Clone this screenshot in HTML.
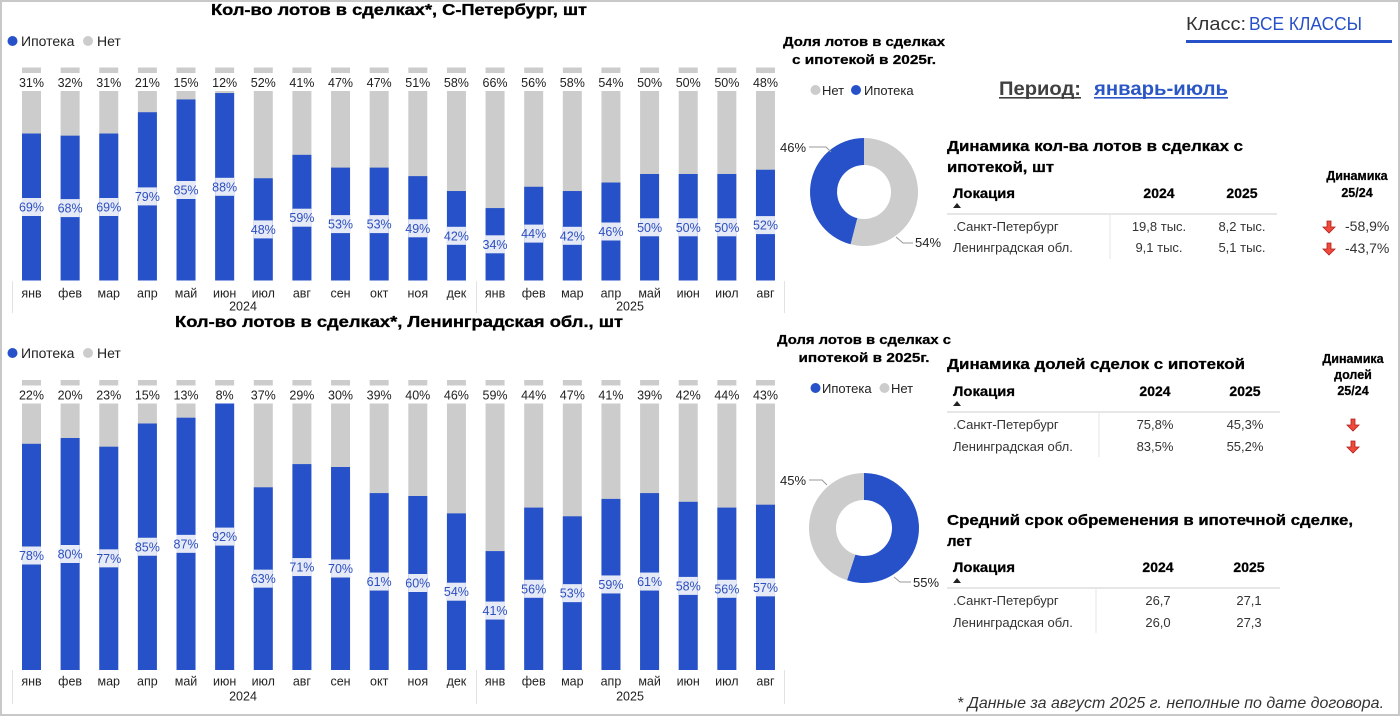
<!DOCTYPE html>
<html><head><meta charset="utf-8"><style>
html,body{margin:0;padding:0;background:#fff;}
svg{display:block;font-family:"Liberation Sans","DejaVu Sans",sans-serif;}
</style></head><body>
<svg width="1400" height="716" viewBox="0 0 1400 716" xmlns="http://www.w3.org/2000/svg">
<rect x="1" y="1" width="1398" height="714" fill="#fff" stroke="#c8c8c8" stroke-width="2"/>

<!-- ===== TOP CHART ===== -->
<text x="399" y="15" text-anchor="middle" font-size="16" font-weight="bold" stroke="#000" stroke-width="0.35" textLength="376" lengthAdjust="spacingAndGlyphs">Кол-во лотов в сделках*, С-Петербург, шт</text>
<circle cx="12.5" cy="41" r="5" fill="#2651c9"/><text x="21" y="46" font-size="14" fill="#222">Ипотека</text>
<circle cx="88" cy="41" r="5" fill="#cccccc"/><text x="97" y="46" font-size="14" fill="#222">Нет</text>

<g fill="#cccccc">
<rect x="22" y="67.5" width="19" height="213"/><rect x="60.63" y="67.5" width="19" height="213"/><rect x="99.26" y="67.5" width="19" height="213"/><rect x="137.89" y="67.5" width="19" height="213"/><rect x="176.52" y="67.5" width="19" height="213"/><rect x="215.15" y="67.5" width="19" height="213"/><rect x="253.78" y="67.5" width="19" height="213"/><rect x="292.41" y="67.5" width="19" height="213"/><rect x="331.04" y="67.5" width="19" height="213"/><rect x="369.67" y="67.5" width="19" height="213"/><rect x="408.3" y="67.5" width="19" height="213"/><rect x="446.93" y="67.5" width="19" height="213"/><rect x="485.56" y="67.5" width="19" height="213"/><rect x="524.19" y="67.5" width="19" height="213"/><rect x="562.82" y="67.5" width="19" height="213"/><rect x="601.45" y="67.5" width="19" height="213"/><rect x="640.08" y="67.5" width="19" height="213"/><rect x="678.71" y="67.5" width="19" height="213"/><rect x="717.34" y="67.5" width="19" height="213"/><rect x="755.97" y="67.5" width="19" height="213"/>
</g>
<g fill="#2651c9">
<rect x="22" y="133.53" width="19" height="146.97"/><rect x="60.63" y="135.66" width="19" height="144.84"/><rect x="99.26" y="133.53" width="19" height="146.97"/><rect x="137.89" y="112.23" width="19" height="168.27"/><rect x="176.52" y="99.45" width="19" height="181.05"/><rect x="215.15" y="93.06" width="19" height="187.44"/><rect x="253.78" y="178.26" width="19" height="102.24"/><rect x="292.41" y="154.83" width="19" height="125.67"/><rect x="331.04" y="167.61" width="19" height="112.89"/><rect x="369.67" y="167.61" width="19" height="112.89"/><rect x="408.3" y="176.13" width="19" height="104.37"/><rect x="446.93" y="191.04" width="19" height="89.46"/><rect x="485.56" y="208.08" width="19" height="72.42"/><rect x="524.19" y="186.78" width="19" height="93.72"/><rect x="562.82" y="191.04" width="19" height="89.46"/><rect x="601.45" y="182.52" width="19" height="97.98"/><rect x="640.08" y="174" width="19" height="106.5"/><rect x="678.71" y="174" width="19" height="106.5"/><rect x="717.34" y="174" width="19" height="106.5"/><rect x="755.97" y="169.74" width="19" height="110.76"/>
</g>
<rect x="15" y="73" width="770" height="18" fill="#fff"/>
<g font-size="12.5" fill="#222" text-anchor="middle">
<text x="31.5" y="87">31%</text><text x="70.13" y="87">32%</text><text x="108.76" y="87">31%</text><text x="147.39" y="87">21%</text><text x="186.02" y="87">15%</text><text x="224.65" y="87">12%</text><text x="263.28" y="87">52%</text><text x="301.91" y="87">41%</text><text x="340.54" y="87">47%</text><text x="379.17" y="87">47%</text><text x="417.8" y="87">51%</text><text x="456.43" y="87">58%</text><text x="495.06" y="87">66%</text><text x="533.69" y="87">56%</text><text x="572.32" y="87">58%</text><text x="610.95" y="87">54%</text><text x="649.58" y="87">50%</text><text x="688.21" y="87">50%</text><text x="726.84" y="87">50%</text><text x="765.47" y="87">48%</text>
</g>
<g fill="#e6eaf7">
<rect x="22" y="198" width="19" height="18"/><rect x="60.63" y="199.1" width="19" height="18"/><rect x="99.26" y="198" width="19" height="18"/><rect x="137.89" y="187.4" width="19" height="18"/><rect x="176.52" y="181" width="19" height="18"/><rect x="215.15" y="177.8" width="19" height="18"/><rect x="253.78" y="220.4" width="19" height="18"/><rect x="292.41" y="208.7" width="19" height="18"/><rect x="331.04" y="215.1" width="19" height="18"/><rect x="369.67" y="215.1" width="19" height="18"/><rect x="408.3" y="219.3" width="19" height="18"/><rect x="446.93" y="226.8" width="19" height="18"/><rect x="485.56" y="235.3" width="19" height="18"/><rect x="524.19" y="224.6" width="19" height="18"/><rect x="562.82" y="226.8" width="19" height="18"/><rect x="601.45" y="222.5" width="19" height="18"/><rect x="640.08" y="218.3" width="19" height="18"/><rect x="678.71" y="218.3" width="19" height="18"/><rect x="717.34" y="218.3" width="19" height="18"/><rect x="755.97" y="216.1" width="19" height="18"/>
</g>
<g font-size="12.5" fill="#2c4fbf" text-anchor="middle">
<text x="31.5" y="211.5">69%</text><text x="70.13" y="212.6">68%</text><text x="108.76" y="211.5">69%</text><text x="147.39" y="200.9">79%</text><text x="186.02" y="194.5">85%</text><text x="224.65" y="191.3">88%</text><text x="263.28" y="233.9">48%</text><text x="301.91" y="222.2">59%</text><text x="340.54" y="228.6">53%</text><text x="379.17" y="228.6">53%</text><text x="417.8" y="232.8">49%</text><text x="456.43" y="240.3">42%</text><text x="495.06" y="248.8">34%</text><text x="533.69" y="238.1">44%</text><text x="572.32" y="240.3">42%</text><text x="610.95" y="236">46%</text><text x="649.58" y="231.8">50%</text><text x="688.21" y="231.8">50%</text><text x="726.84" y="231.8">50%</text><text x="765.47" y="229.6">52%</text>
</g>
<g stroke="#e2e2e2" stroke-width="1"><line x1="12.5" y1="281" x2="12.5" y2="313"/><line x1="476.5" y1="281" x2="476.5" y2="313"/><line x1="784.5" y1="281" x2="784.5" y2="313"/></g>
<g font-size="12.5" fill="#222" text-anchor="middle">
<text x="31.5" y="297.5">янв</text><text x="70.13" y="297.5">фев</text><text x="108.76" y="297.5">мар</text><text x="147.39" y="297.5">апр</text><text x="186.02" y="297.5">май</text><text x="224.65" y="297.5">июн</text><text x="263.28" y="297.5">июл</text><text x="301.91" y="297.5">авг</text><text x="340.54" y="297.5">сен</text><text x="379.17" y="297.5">окт</text><text x="417.8" y="297.5">ноя</text><text x="456.43" y="297.5">дек</text><text x="495.06" y="297.5">янв</text><text x="533.69" y="297.5">фев</text><text x="572.32" y="297.5">мар</text><text x="610.95" y="297.5">апр</text><text x="649.58" y="297.5">май</text><text x="688.21" y="297.5">июн</text><text x="726.84" y="297.5">июл</text><text x="765.47" y="297.5">авг</text>
<text x="243" y="310.5">2024</text><text x="630" y="310.5">2025</text>
</g>

<!-- ===== BOTTOM CHART ===== -->
<text x="399" y="327" text-anchor="middle" font-size="16" font-weight="bold" stroke="#000" stroke-width="0.35" textLength="448" lengthAdjust="spacingAndGlyphs">Кол-во лотов в сделках*, Ленинградская обл., шт</text>
<circle cx="12.5" cy="353" r="5" fill="#2651c9"/><text x="21" y="358" font-size="14" fill="#222">Ипотека</text>
<circle cx="88" cy="353" r="5" fill="#cccccc"/><text x="97" y="358" font-size="14" fill="#222">Нет</text>

<g fill="#cccccc">
<rect x="22" y="380" width="19" height="290"/><rect x="60.63" y="380" width="19" height="290"/><rect x="99.26" y="380" width="19" height="290"/><rect x="137.89" y="380" width="19" height="290"/><rect x="176.52" y="380" width="19" height="290"/><rect x="215.15" y="380" width="19" height="290"/><rect x="253.78" y="380" width="19" height="290"/><rect x="292.41" y="380" width="19" height="290"/><rect x="331.04" y="380" width="19" height="290"/><rect x="369.67" y="380" width="19" height="290"/><rect x="408.3" y="380" width="19" height="290"/><rect x="446.93" y="380" width="19" height="290"/><rect x="485.56" y="380" width="19" height="290"/><rect x="524.19" y="380" width="19" height="290"/><rect x="562.82" y="380" width="19" height="290"/><rect x="601.45" y="380" width="19" height="290"/><rect x="640.08" y="380" width="19" height="290"/><rect x="678.71" y="380" width="19" height="290"/><rect x="717.34" y="380" width="19" height="290"/><rect x="755.97" y="380" width="19" height="290"/>
</g>
<g fill="#2651c9">
<rect x="22" y="443.8" width="19" height="226.2"/><rect x="60.63" y="438" width="19" height="232"/><rect x="99.26" y="446.7" width="19" height="223.3"/><rect x="137.89" y="423.5" width="19" height="246.5"/><rect x="176.52" y="417.7" width="19" height="252.3"/><rect x="215.15" y="403.2" width="19" height="266.8"/><rect x="253.78" y="487.3" width="19" height="182.7"/><rect x="292.41" y="464.1" width="19" height="205.9"/><rect x="331.04" y="467" width="19" height="203"/><rect x="369.67" y="493.1" width="19" height="176.9"/><rect x="408.3" y="496" width="19" height="174"/><rect x="446.93" y="513.4" width="19" height="156.6"/><rect x="485.56" y="551.1" width="19" height="118.9"/><rect x="524.19" y="507.6" width="19" height="162.4"/><rect x="562.82" y="516.3" width="19" height="153.7"/><rect x="601.45" y="498.9" width="19" height="171.1"/><rect x="640.08" y="493.1" width="19" height="176.9"/><rect x="678.71" y="501.8" width="19" height="168.2"/><rect x="717.34" y="507.6" width="19" height="162.4"/><rect x="755.97" y="504.7" width="19" height="165.3"/>
</g>
<rect x="15" y="385.5" width="770" height="18" fill="#fff"/>
<g font-size="12.5" fill="#222" text-anchor="middle">
<text x="31.5" y="399.5">22%</text><text x="70.13" y="399.5">20%</text><text x="108.76" y="399.5">23%</text><text x="147.39" y="399.5">15%</text><text x="186.02" y="399.5">13%</text><text x="224.65" y="399.5">8%</text><text x="263.28" y="399.5">37%</text><text x="301.91" y="399.5">29%</text><text x="340.54" y="399.5">30%</text><text x="379.17" y="399.5">39%</text><text x="417.8" y="399.5">40%</text><text x="456.43" y="399.5">46%</text><text x="495.06" y="399.5">59%</text><text x="533.69" y="399.5">44%</text><text x="572.32" y="399.5">47%</text><text x="610.95" y="399.5">41%</text><text x="649.58" y="399.5">39%</text><text x="688.21" y="399.5">42%</text><text x="726.84" y="399.5">44%</text><text x="765.47" y="399.5">43%</text>
</g>
<g fill="#e6eaf7">
<rect x="22" y="546.5" width="19" height="18"/><rect x="60.63" y="545" width="19" height="18"/><rect x="99.26" y="549.35" width="19" height="18"/><rect x="137.89" y="537.75" width="19" height="18"/><rect x="176.52" y="534.85" width="19" height="18"/><rect x="215.15" y="527.6" width="19" height="18"/><rect x="253.78" y="569.65" width="19" height="18"/><rect x="292.41" y="558.05" width="19" height="18"/><rect x="331.04" y="559.5" width="19" height="18"/><rect x="369.67" y="572.55" width="19" height="18"/><rect x="408.3" y="574" width="19" height="18"/><rect x="446.93" y="582.7" width="19" height="18"/><rect x="485.56" y="601.55" width="19" height="18"/><rect x="524.19" y="579.8" width="19" height="18"/><rect x="562.82" y="584.15" width="19" height="18"/><rect x="601.45" y="575.45" width="19" height="18"/><rect x="640.08" y="572.55" width="19" height="18"/><rect x="678.71" y="576.9" width="19" height="18"/><rect x="717.34" y="579.8" width="19" height="18"/><rect x="755.97" y="578.35" width="19" height="18"/>
</g>
<g font-size="12.5" fill="#2c4fbf" text-anchor="middle">
<text x="31.5" y="560">78%</text><text x="70.13" y="558.5">80%</text><text x="108.76" y="562.85">77%</text><text x="147.39" y="551.25">85%</text><text x="186.02" y="548.35">87%</text><text x="224.65" y="541.1">92%</text><text x="263.28" y="583.15">63%</text><text x="301.91" y="571.55">71%</text><text x="340.54" y="573">70%</text><text x="379.17" y="586.05">61%</text><text x="417.8" y="587.5">60%</text><text x="456.43" y="596.2">54%</text><text x="495.06" y="615.05">41%</text><text x="533.69" y="593.3">56%</text><text x="572.32" y="597.65">53%</text><text x="610.95" y="588.95">59%</text><text x="649.58" y="586.05">61%</text><text x="688.21" y="590.4">58%</text><text x="726.84" y="593.3">56%</text><text x="765.47" y="591.85">57%</text>
</g>
<g stroke="#e2e2e2" stroke-width="1"><line x1="12.5" y1="670" x2="12.5" y2="704"/><line x1="476.5" y1="670" x2="476.5" y2="704"/><line x1="784.5" y1="670" x2="784.5" y2="704"/></g>
<g font-size="12.5" fill="#222" text-anchor="middle">
<text x="31.5" y="685.5">янв</text><text x="70.13" y="685.5">фев</text><text x="108.76" y="685.5">мар</text><text x="147.39" y="685.5">апр</text><text x="186.02" y="685.5">май</text><text x="224.65" y="685.5">июн</text><text x="263.28" y="685.5">июл</text><text x="301.91" y="685.5">авг</text><text x="340.54" y="685.5">сен</text><text x="379.17" y="685.5">окт</text><text x="417.8" y="685.5">ноя</text><text x="456.43" y="685.5">дек</text><text x="495.06" y="685.5">янв</text><text x="533.69" y="685.5">фев</text><text x="572.32" y="685.5">мар</text><text x="610.95" y="685.5">апр</text><text x="649.58" y="685.5">май</text><text x="688.21" y="685.5">июн</text><text x="726.84" y="685.5">июл</text><text x="765.47" y="685.5">авг</text>
<text x="243" y="700.5">2024</text><text x="630" y="700.5">2025</text>
</g>

<!-- ===== HEADER RIGHT ===== -->
<text x="1186" y="30" font-size="18" fill="#333" textLength="60" lengthAdjust="spacingAndGlyphs">Класс:</text>
<text x="1249" y="30" font-size="18" fill="#2651c9" textLength="113" lengthAdjust="spacingAndGlyphs">ВСЕ КЛАССЫ</text>
<rect x="1186" y="40" width="206" height="3" fill="#2651c9"/>

<text x="999" y="95" font-size="19" font-weight="bold" fill="#404040" textLength="82" lengthAdjust="spacingAndGlyphs">Период:</text>
<rect x="999" y="97" width="82" height="1.6" fill="#404040"/>
<text x="1094" y="95" font-size="19" font-weight="bold" fill="#2a56c6" textLength="134" lengthAdjust="spacingAndGlyphs">январь-июль</text>
<rect x="1094" y="97" width="134" height="1.6" fill="#2a56c6"/>

<!-- ===== DONUT 1 ===== -->
<g font-size="13" font-weight="bold" text-anchor="middle" stroke="#000" stroke-width="0.25">
<text x="864" y="46" textLength="162" lengthAdjust="spacingAndGlyphs">Доля лотов в сделках</text>
<text x="864" y="64" textLength="144" lengthAdjust="spacingAndGlyphs">с ипотекой в 2025г.</text>
</g>
<circle cx="815.5" cy="90" r="5" fill="#cccccc"/><text x="822" y="95" font-size="13" fill="#222">Нет</text>
<circle cx="856" cy="90" r="5" fill="#2651c9"/><text x="864" y="95" font-size="13" fill="#222">Ипотека</text>
<path d="M864 138 A54 54 0 1 1 850.57 244.30 L857.29 218.15 A27 27 0 1 0 864 165 Z" fill="#cccccc"/>
<path d="M850.57 244.30 A54 54 0 0 1 864 138 L864 165 A27 27 0 0 0 857.29 218.15 Z" fill="#2651c9"/>
<polyline points="809,147 826,147 831,152" fill="none" stroke="#999" stroke-width="1"/>
<polyline points="896,237 903,243 913,243" fill="none" stroke="#999" stroke-width="1"/>
<text x="780" y="152" font-size="13" fill="#222">46%</text>
<text x="915" y="247" font-size="13" fill="#222">54%</text>

<!-- ===== TABLE 1 ===== -->
<g font-size="15" font-weight="bold" stroke="#000" stroke-width="0.3">
<text x="947" y="151" textLength="296" lengthAdjust="spacingAndGlyphs">Динамика кол-ва лотов в сделках с</text>
<text x="947" y="172" textLength="107" lengthAdjust="spacingAndGlyphs">ипотекой, шт</text>
</g>
<g font-size="14" font-weight="bold" stroke="#000" stroke-width="0.25">
<text x="953" y="198" textLength="62" lengthAdjust="spacingAndGlyphs">Локация</text>
<text x="1159" y="198" text-anchor="middle">2024</text>
<text x="1242" y="198" text-anchor="middle">2025</text>
</g>
<polygon points="953,208 961,208 957,203" fill="#222"/>
<rect x="947" y="213" width="330" height="2" fill="#e6e6e6"/>
<rect x="1109.5" y="215" width="1" height="44" fill="#e6e6e6"/>
<g font-size="13" fill="#333">
<text x="953" y="231">.Санкт-Петербург</text>
<text x="953" y="252">Ленинградская обл.</text>
<text x="1159" y="231" text-anchor="middle">19,8 тыс.</text>
<text x="1242" y="231" text-anchor="middle">8,2 тыс.</text>
<text x="1159" y="252" text-anchor="middle">9,1 тыс.</text>
<text x="1242" y="252" text-anchor="middle">5,1 тыс.</text>
</g>
<g font-size="12.5" font-weight="bold" text-anchor="middle" stroke="#000" stroke-width="0.25">
<text x="1357" y="180">Динамика</text>
<text x="1357" y="197">25/24</text>
</g>
<g font-size="14" fill="#333">
<text x="1345" y="231">-58,9%</text>
<text x="1345" y="253">-43,7%</text>
</g>
<g fill="#f04a3a" stroke="#b01e1e" stroke-width="0.8">
<path d="M1327 221 h4 v6 h4 l-6 6 l-6 -6 h4 z"/>
<path d="M1327 243 h4 v6 h4 l-6 6 l-6 -6 h4 z"/>
</g>

<!-- ===== DONUT 2 ===== -->
<g font-size="13" font-weight="bold" text-anchor="middle" stroke="#000" stroke-width="0.25">
<text x="864" y="344" textLength="174" lengthAdjust="spacingAndGlyphs">Доля лотов в сделках с</text>
<text x="864" y="362" textLength="131" lengthAdjust="spacingAndGlyphs">ипотекой в 2025г.</text>
</g>
<circle cx="815.5" cy="388" r="5" fill="#2651c9"/><text x="822" y="393" font-size="13" fill="#222">Ипотека</text>
<circle cx="884.5" cy="388" r="5" fill="#cccccc"/><text x="891" y="393" font-size="13" fill="#222">Нет</text>
<path d="M864 473 A55 55 0 1 1 847.0 580.31 L855.35 554.63 A28 28 0 1 0 864 500 Z" fill="#2651c9"/>
<path d="M847.0 580.31 A55 55 0 0 1 864 473 L864 500 A28 28 0 0 0 855.35 554.63 Z" fill="#cccccc"/>
<polyline points="809,480 822,480 827,485" fill="none" stroke="#999" stroke-width="1"/>
<polyline points="894,577 900,582 911,582" fill="none" stroke="#999" stroke-width="1"/>
<text x="780" y="485" font-size="13" fill="#222">45%</text>
<text x="913" y="587" font-size="13" fill="#222">55%</text>

<!-- ===== TABLE 2 ===== -->
<text x="947" y="369" font-size="15" font-weight="bold" stroke="#000" stroke-width="0.3" textLength="298" lengthAdjust="spacingAndGlyphs">Динамика долей сделок с ипотекой</text>
<g font-size="12.5" font-weight="bold" text-anchor="middle" stroke="#000" stroke-width="0.25">
<text x="1353" y="363">Динамика</text>
<text x="1353" y="379">долей</text>
<text x="1353" y="395">25/24</text>
</g>
<g font-size="14" font-weight="bold" stroke="#000" stroke-width="0.25">
<text x="953" y="396" textLength="62" lengthAdjust="spacingAndGlyphs">Локация</text>
<text x="1155" y="396" text-anchor="middle">2024</text>
<text x="1245" y="396" text-anchor="middle">2025</text>
</g>
<polygon points="953,406 961,406 957,401" fill="#222"/>
<rect x="947" y="411" width="333" height="2" fill="#e6e6e6"/>
<rect x="1098.5" y="413" width="1" height="44" fill="#e6e6e6"/>
<g font-size="13" fill="#333">
<text x="953" y="429">.Санкт-Петербург</text>
<text x="953" y="451">Ленинградская обл.</text>
<text x="1155" y="429" text-anchor="middle">75,8%</text>
<text x="1245" y="429" text-anchor="middle">45,3%</text>
<text x="1155" y="451" text-anchor="middle">83,5%</text>
<text x="1245" y="451" text-anchor="middle">55,2%</text>
</g>
<g fill="#f04a3a" stroke="#b01e1e" stroke-width="0.8">
<path d="M1351 419 h4 v6 h4 l-6 6 l-6 -6 h4 z"/>
<path d="M1351 441 h4 v6 h4 l-6 6 l-6 -6 h4 z"/>
</g>

<!-- ===== TABLE 3 ===== -->
<g font-size="15" font-weight="bold" stroke="#000" stroke-width="0.3">
<text x="947" y="525" textLength="406" lengthAdjust="spacingAndGlyphs">Средний срок обременения в ипотечной сделке,</text>
<text x="947" y="546">лет</text>
</g>
<g font-size="14" font-weight="bold" stroke="#000" stroke-width="0.25">
<text x="953" y="572" textLength="62" lengthAdjust="spacingAndGlyphs">Локация</text>
<text x="1158" y="572" text-anchor="middle">2024</text>
<text x="1249" y="572" text-anchor="middle">2025</text>
</g>
<polygon points="953,583 961,583 957,578" fill="#222"/>
<rect x="947" y="587" width="333" height="2" fill="#e6e6e6"/>
<rect x="1095.5" y="589" width="1" height="44" fill="#e6e6e6"/>
<g font-size="13" fill="#333">
<text x="953" y="605">.Санкт-Петербург</text>
<text x="953" y="627">Ленинградская обл.</text>
<text x="1158" y="605" text-anchor="middle">26,7</text>
<text x="1249" y="605" text-anchor="middle">27,1</text>
<text x="1158" y="627" text-anchor="middle">26,0</text>
<text x="1249" y="627" text-anchor="middle">27,3</text>
</g>

<text x="957" y="708" font-size="16" font-style="italic" fill="#333" textLength="427" lengthAdjust="spacingAndGlyphs">* Данные за август 2025 г. неполные по дате договора.</text>
</svg>
</body></html>
